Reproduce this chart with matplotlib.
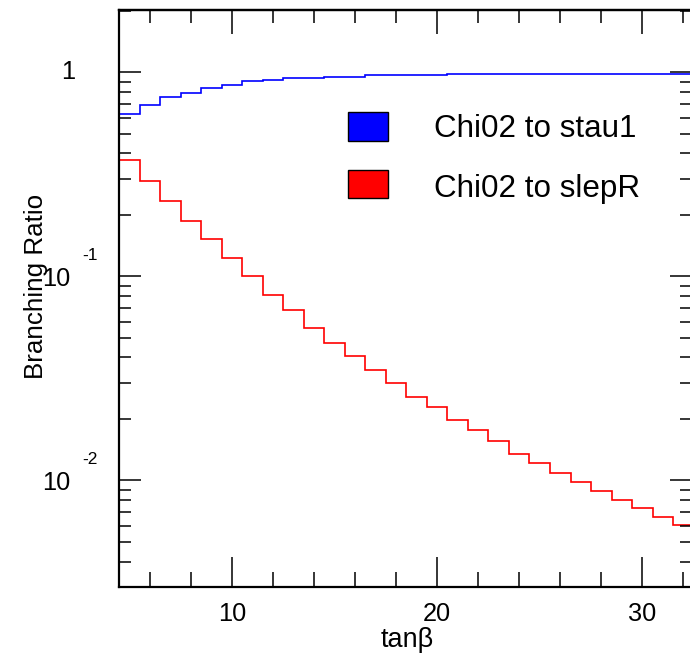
import matplotlib
matplotlib.use('Agg')
import matplotlib.pyplot as plt
import numpy as np
from matplotlib.patches import Rectangle
from matplotlib.ticker import LogLocator, NullFormatter, MultipleLocator, FixedLocator
import matplotlib.transforms as mtrans

plt.rcParams['font.family'] = ['Liberation Sans', 'DejaVu Sans']

# ---- data ----
tanb = [5, 6, 7, 8, 9, 10, 11, 12, 13, 14, 15, 16, 17, 18, 19, 20,
        21, 22, 23, 24, 25, 26, 27, 28, 29, 30, 31, 32]
br_stau1 = [0.625, 0.691, 0.754, 0.794, 0.838, 0.869, 0.906, 0.920, 0.934, 0.934,
            0.945, 0.945, 0.967, 0.967, 0.967, 0.967,
            0.981, 0.981, 0.981, 0.981, 0.981, 0.981, 0.981, 0.981, 0.981, 0.981, 0.981, 0.981]
br_slepR = [0.372, 0.294, 0.235, 0.187, 0.152, 0.123, 0.100, 0.081, 0.068, 0.056,
            0.0473, 0.0407, 0.0346, 0.0301, 0.0257, 0.0228, 0.0198, 0.0176, 0.0155, 0.0135,
            0.0122, 0.0109, 0.00984, 0.00887, 0.00798, 0.00731, 0.00659, 0.00604]
series_labels = ["Chi02 to stau1", "Chi02 to slepR"]
series_colors = ["#0000ff", "#ff0000"]
xtick_values = [10, 20, 30]
xtick_labels = ["10", "20", "30"]
ytick_values = [1, 0.1, 0.01]
ytick_bases = ["1", "10", "10"]
ytick_exps = ["", "-1", "-2"]
x_title = "tan\u03b2"
y_title = "Branching Ratio"

W, H = 690, 654
fig = plt.figure(figsize=(W / 100, H / 100), dpi=100)


def fx(px):
    return px / W


def fy(py):
    return 1 - py / H


ax = fig.add_axes([fx(119), fy(587), fx(692) - fx(119), fy(10) - fy(587)])

edges = np.append(np.array(tanb, dtype=float) - 0.5, tanb[-1] + 0.5)
ax.stairs(br_stau1, edges, color=series_colors[0], lw=1.2, baseline=None)
ax.stairs(br_slepR, edges, color=series_colors[1], lw=1.2, baseline=None)

ax.set_yscale('log')
ax.set_xlim(4.5, 32.42)
ax.set_ylim(0.003, 2.02)

for s in ax.spines.values():
    s.set_linewidth(1.6)

# x ticks
ax.xaxis.set_major_locator(FixedLocator(xtick_values))
ax.set_xticklabels(xtick_labels, fontsize=18.3)
ax.xaxis.set_minor_locator(MultipleLocator(2))
ax.tick_params(axis='x', which='major', direction='in', length=21.5, width=1.1, pad=11,
               top=False)
ax.tick_params(axis='x', which='minor', direction='in', length=10.8, width=1.1, top=False)

secx = ax.secondary_xaxis('top')
secx.xaxis.set_major_locator(FixedLocator(xtick_values))
secx.xaxis.set_minor_locator(MultipleLocator(2))
secx.tick_params(which='major', direction='in', length=17.3, width=1.1, labeltop=False)
secx.tick_params(which='minor', direction='in', length=9.4, width=1.1)
secx.spines['top'].set_linewidth(1.6)

# y ticks
ax.yaxis.set_major_locator(FixedLocator(ytick_values))
ax.yaxis.set_minor_locator(LogLocator(base=10, subs=np.arange(2, 10)))
ax.yaxis.set_major_formatter(NullFormatter())
ax.yaxis.set_minor_formatter(NullFormatter())
ax.tick_params(axis='y', which='major', direction='in', length=15.8, width=1.1,
               left=True, right=True)
ax.tick_params(axis='y', which='minor', direction='in', length=8.5, width=1.1,
               left=True, right=True)

trans = mtrans.blended_transform_factory(fig.transFigure, ax.transData)
for v, b, e in zip(ytick_values, ytick_bases, ytick_exps):
    if e == "":
        ax.text(fx(75), v, b, transform=trans, ha='right', va='center', fontsize=18.3)
    else:
        tb = mtrans.offset_copy(trans, fig=fig, y=-3, units='dots')
        ax.text(fx(70), v, b, transform=tb, ha='right', va='center', fontsize=18.3)
        te = mtrans.offset_copy(trans, fig=fig, y=21, units='dots')
        ax.text(fx(82), v, e, transform=te, ha='left', va='center', fontsize=12.5)

# axis titles
fig.text(fx(407), fy(640), x_title, ha='center', va='center', fontsize=19.5)
fig.text(fx(36), fy(379), y_title, rotation=90, ha='center', va='bottom', fontsize=18.7)

# legend
box_rows = [(112, 141, 137), (170, 198, 197)]
for (top, bot, base), lab, col in zip(box_rows, series_labels, series_colors):
    fig.patches.append(Rectangle((fx(348), fy(bot)), fx(388) - fx(348), fy(top) - fy(bot),
                                 transform=fig.transFigure, facecolor=col,
                                 edgecolor='black', lw=1.0))
    fig.text(fx(434), fy(base), lab, ha='left', va='baseline', fontsize=22.6)

fig.savefig('out.png', dpi=100)
